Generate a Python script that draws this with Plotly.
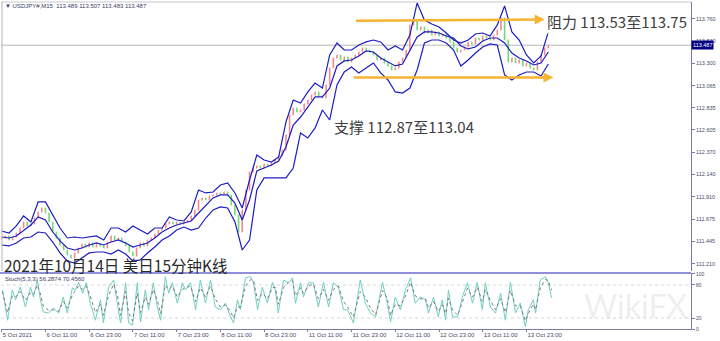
import plotly.graph_objects as go

# ---------------- data ----------------
# hourly closes (x = trading hours since 5 Oct 23:00)
close_hours = list(range(151))
closes = [
    111.479, 111.500, 111.458, 111.489, 111.531, 111.583, 111.646, 111.604, 111.625, 111.687, 111.750,
    111.791, 111.739, 111.646, 111.541, 111.479, 111.406, 111.354, 111.302, 111.271, 111.323,
    111.375, 111.416, 111.385, 111.427, 111.385, 111.416, 111.396, 111.375, 111.437, 111.500,
    111.458, 111.479, 111.437, 111.396, 111.333, 111.291, 111.375, 111.427, 111.396, 111.458,
    111.479, 111.521, 111.562, 111.583, 111.625, 111.646, 111.625, 111.646, 111.625, 111.646,
    111.666, 111.708, 111.771, 111.875, 111.896, 111.875, 111.916, 111.927, 111.948, 111.937,
    111.958, 111.927, 111.823, 111.718, 111.541, 111.771, 111.979, 112.166, 112.208, 112.229,
    112.208, 112.250, 112.229, 112.260, 112.291, 112.333, 112.396, 112.552, 112.760, 112.833,
    112.791, 112.812, 112.875, 112.916, 112.968, 113.000, 112.958, 112.937, 113.073, 113.250,
    113.354, 113.385, 113.333, 113.364, 113.312, 113.354, 113.385, 113.416, 113.458, 113.437,
    113.416, 113.385, 113.333, 113.354, 113.302, 113.271, 113.229, 113.250, 113.312, 113.354,
    113.437, 113.698, 113.750, 113.646, 113.677, 113.614, 113.646, 113.593, 113.625, 113.583,
    113.604, 113.562, 113.521, 113.458, 113.416, 113.437, 113.468, 113.521, 113.500, 113.562,
    113.541, 113.583, 113.562, 113.541, 113.593, 113.646, 113.771, 113.541, 113.312, 113.354,
    113.302, 113.333, 113.271, 113.302, 113.250, 113.229, 113.312, 113.385, 113.458, 113.487,
]
first_open = 111.470

# Bollinger bands, every 2 hours
band_hours = list(range(0, 152, 2))
upper = [
    111.552, 111.531, 111.604, 111.708, 111.646, 111.854, 111.854, 111.718, 111.583, 111.479,
    111.489, 111.479, 111.489, 111.500, 111.458, 111.583, 111.583, 111.541, 111.604, 111.562,
    111.521, 111.583, 111.583, 111.698, 111.666, 111.656, 111.750, 111.979, 111.948, 111.958,
    112.031, 112.052, 111.948, 111.791, 112.083, 112.343, 112.291, 112.270, 112.323, 112.687,
    112.916, 112.885, 113.000, 113.093, 113.041, 113.385, 113.510, 113.437, 113.437, 113.489,
    113.521, 113.541, 113.521, 113.437, 113.479, 113.437, 113.593, 113.927, 113.750, 113.708,
    113.677, 113.614, 113.541, 113.510, 113.541, 113.604, 113.614, 113.583, 113.698, 113.896,
    113.625, 113.541, 113.385, 113.302, 113.375, 113.625,
]
middle = [
    111.489, 111.479, 111.500, 111.562, 111.614, 111.698, 111.666, 111.541, 111.448, 111.375,
    111.354, 111.375, 111.406, 111.427, 111.406, 111.437, 111.458, 111.427, 111.385, 111.406,
    111.427, 111.479, 111.541, 111.583, 111.614, 111.635, 111.656, 111.739, 111.823, 111.896,
    111.927, 111.927, 111.843, 111.666, 111.875, 112.177, 112.208, 112.239, 112.281, 112.427,
    112.656, 112.739, 112.843, 112.948, 112.948, 113.041, 113.271, 113.323, 113.333, 113.375,
    113.427, 113.416, 113.354, 113.312, 113.271, 113.291, 113.427, 113.573, 113.625, 113.625,
    113.614, 113.583, 113.562, 113.479, 113.448, 113.468, 113.531, 113.562, 113.562, 113.510,
    113.406, 113.354, 113.323, 113.281, 113.302, 113.416,
]
lower = [
    111.406, 111.396, 111.427, 111.479, 111.489, 111.541, 111.531, 111.437, 111.323, 111.239,
    111.218, 111.271, 111.323, 111.333, 111.333, 111.312, 111.354, 111.312, 111.239, 111.250,
    111.323, 111.385, 111.458, 111.500, 111.562, 111.593, 111.562, 111.583, 111.687, 111.771,
    111.802, 111.791, 111.646, 111.354, 111.458, 111.979, 112.104, 112.104, 112.104, 112.104,
    112.208, 112.573, 112.520, 112.625, 112.812, 112.708, 113.073, 113.208, 113.260, 113.198,
    113.250, 113.302, 113.198, 113.125, 113.000, 112.989, 113.041, 113.229, 113.510, 113.541,
    113.541, 113.510, 113.437, 113.271, 113.333, 113.406, 113.468, 113.500, 113.489, 113.177,
    113.125, 113.177, 113.208, 113.208, 113.166, 113.291,
]

# Stochastic (5,3,3)
stoch_hours = [
    0.2, 1.6, 2.9, 3.8, 5.1, 6.5, 7.9, 8.7, 9.8, 10.6, 11.4, 12.8, 14.2, 15.6, 16.9, 18.0, 19.4, 20.2,
    21.1, 22.2, 23.2, 24.3, 25.7, 27.1, 27.9, 29.3, 30.7, 31.8, 32.6, 34.0, 34.8, 35.9, 37.2, 38.1,
    39.4, 40.3, 41.6, 42.7, 43.6, 44.9, 45.8, 46.8, 48.2, 49.6, 50.4, 51.8, 53.2, 54.5, 55.9, 57.3,
    58.6, 60.0, 61.4, 62.8, 63.6, 64.7, 65.5, 66.9, 68.3, 69.1, 70.2, 71.5, 72.9, 74.3, 75.1, 75.9,
    77.3, 78.7, 79.8, 80.6, 82.0, 82.8, 84.2, 85.5, 86.9, 88.3, 89.7, 91.0, 92.4, 93.8, 94.9, 96.5,
    98.4, 99.8, 101.2, 102.6, 104.5, 105.8, 106.7, 108.0, 109.4, 110.8, 112.2, 113.5, 114.9, 116.3,
    117.1, 118.5, 119.8, 120.9, 121.8, 122.6, 123.7, 125.1, 126.4, 127.8, 129.2, 130.5, 131.9, 132.7,
    134.1, 135.5, 136.9, 138.2, 139.6, 141.0, 142.3, 143.7, 144.5, 145.9, 146.5, 147.8, 149.2, 150.0,
    150.9,
]
stoch_main = [
    71, 16, 71, 53, 76, 40, 76, 58, 89, 53,
    31, 29, 38, 29, 58, 29, 75, 71, 85, 65,
    84, 47, 16, 53, 11, 76, 89, 47, 11, 84,
    11, 7, 84, 13, 71, 35, 84, 40, 16, 95,
    65, 84, 47, 84, 71, 84, 35, 89, 47, 89,
    40, 35, 47, 22, 11, 53, 35, 93, 95, 84,
    35, 76, 47, 85, 71, 29, 89, 84, 93, 47,
    84, 58, 84, 84, 40, 85, 40, 84, 76, 35,
    35, 11, 89, 47, 29, 22, 85, 47, 13, 58,
    35, 71, 93, 47, 58, 53, 29, 58, 22, 53,
    16, 71, 22, 22, 58, 84, 47, 85, 35, 84,
    40, 29, 65, 16, 85, 29, 47, 4, 35, 53,
    29, 89, 95, 84, 56.29,
]
stoch_signal = [
    68, 30, 60, 58, 68, 52, 66, 63, 80, 64,
    42, 34, 35, 32, 50, 38, 62, 70, 78, 72,
    78, 60, 30, 45, 25, 60, 82, 60, 25, 68,
    30, 15, 65, 30, 58, 45, 72, 52, 28, 80,
    72, 78, 58, 72, 75, 78, 50, 75, 58, 78,
    55, 40, 44, 32, 20, 40, 40, 78, 90, 88,
    52, 65, 55, 75, 76, 45, 75, 85, 88, 60,
    75, 65, 78, 82, 55, 72, 52, 72, 78, 50,
    40, 22, 68, 58, 38, 26, 70, 56, 25, 45,
    42, 60, 85, 60, 55, 55, 38, 50, 32, 44,
    28, 56, 35, 25, 48, 74, 58, 76, 50, 72,
    52, 35, 55, 30, 70, 42, 42, 15, 28, 45,
    35, 75, 90, 88, 70.46,
]

tick_hours = [0, 12, 24, 36, 48, 60, 72, 84, 96, 108, 120, 132, 144]
tick_labels = ["5 Oct 2021", "6 Oct 11:00", "6 Oct 23:00", "7 Oct 11:00", "7 Oct 23:00",
               "8 Oct 11:00", "8 Oct 23:00", "11 Oct 11:00", "11 Oct 23:00", "12 Oct 11:00",
               "12 Oct 23:00", "13 Oct 11:00", "13 Oct 23:00"]
price_ticks = [113.760, 113.530, 113.300, 113.065, 112.835, 112.605, 112.370, 112.140,
               111.910, 111.675, 111.445, 111.210]
stoch_ticks = [100, 80, 20, 0]

last_price = 113.487
resistance_line = (96.8, 113.742, 149.0, 113.755)   # (h0, p0, h1, p1)
support_line = (96.2, 113.151, 151.4, 113.151)

# ---------------- layout helpers ----------------
W, H = 720, 341
ML, MR, MT, MB = 1, 29, 2, 12
PW, PH = W - ML - MR, H - MT - MB


def px(x):
    return (x - ML) / PW


def py(y):
    return (H - MB - y) / PH


main_dom = [py(271), 1.0]
stoch_dom = [0.0, py(273)]

opens = [first_open] + closes[:-1]
highs = [max(o, c) for o, c in zip(opens, closes)]
lows = [min(o, c) for o, c in zip(opens, closes)]

band_color = "#1c1cc4"
fig = go.Figure()
fig.add_trace(go.Ohlc(
    x=close_hours, open=opens, high=highs, low=lows, close=closes,
    increasing=dict(line=dict(color="#f28a8a", width=1.6)),
    decreasing=dict(line=dict(color="#74d874", width=1.6)),
    tickwidth=0.2, xaxis="x", yaxis="y", showlegend=False, hoverinfo="skip"))
for arr in (upper, middle, lower):
    fig.add_trace(go.Scatter(x=band_hours, y=arr, mode="lines", line=dict(color=band_color, width=1.2),
                             xaxis="x", yaxis="y", showlegend=False, hoverinfo="skip"))
fig.add_trace(go.Scatter(x=stoch_hours, y=stoch_main, mode="lines",
                         line=dict(color="#6fcfc0", width=1), xaxis="x2", yaxis="y2",
                         showlegend=False, hoverinfo="skip"))
fig.add_trace(go.Scatter(x=stoch_hours, y=stoch_signal, mode="lines",
                         line=dict(color="#7a7a7a", width=1, dash="dot"), xaxis="x2", yaxis="y2",
                         showlegend=False, hoverinfo="skip"))

small = dict(family="Liberation Sans", size=6, color="#4a4a6a")
axis_col = "#7a7aa8"
xr = [-0.2, -0.2 + PW / 3.644]

fig.update_layout(
    width=W, height=H, margin=dict(l=ML, r=MR, t=MT, b=MB),
    paper_bgcolor="white", plot_bgcolor="white",
    xaxis=dict(domain=[0, 1], anchor="y", range=xr, showticklabels=False, showgrid=False,
               zeroline=False, rangeslider=dict(visible=False), ticks=""),
    xaxis2=dict(domain=[0, 1], anchor="y2", matches="x", range=xr, tickmode="array",
                tickvals=tick_hours, ticktext=tick_labels, ticklabelposition="outside right",
                tickangle=0, ticks="outside", ticklen=2, tickcolor=axis_col, tickfont=small,
                showgrid=False, zeroline=False, showline=True, linecolor=axis_col, linewidth=1),
    yaxis=dict(domain=main_dom, anchor="x", side="right", range=[111.135, 113.937],
               tickmode="array", tickvals=price_ticks, ticktext=[f"{v:.3f}" for v in price_ticks],
               ticks="outside", ticklen=3, tickcolor=axis_col, tickfont=dict(small, size=5.5),
               showgrid=False, zeroline=False, showline=True, linecolor=axis_col, linewidth=1),
    yaxis2=dict(domain=stoch_dom, anchor="x2", side="right", range=[0, 101.8],
                tickmode="array", tickvals=stoch_ticks, ticktext=[str(v) for v in stoch_ticks],
                ticks="outside", ticklen=3, tickcolor=axis_col, tickfont=dict(small, size=5),
                showgrid=False, zeroline=False, showline=True, linecolor=axis_col, linewidth=1),
    showlegend=False,
)

shapes = [
    dict(type="line", xref="paper", yref="y", x0=0, x1=1, y0=last_price, y1=last_price,
         line=dict(color="#b8b8b8", width=1), layer="below"),
    dict(type="line", xref="paper", yref="y2", x0=0, x1=1, y0=80, y1=80,
         line=dict(color="#d8d8d8", width=1, dash="dot"), layer="below"),
    dict(type="line", xref="paper", yref="y2", x0=0, x1=1, y0=20, y1=20,
         line=dict(color="#d8d8d8", width=1, dash="dot"), layer="below"),
    dict(type="line", xref="paper", yref="paper", x0=px(0), x1=1, y0=stoch_dom[1], y1=stoch_dom[1],
         line=dict(color="#6a6ad0", width=1.5)),
    dict(type="line", xref="paper", yref="paper", x0=px(2), x1=px(2), y0=main_dom[0], y1=1,
         line=dict(color="#b4b4b4", width=1)),
    dict(type="line", xref="paper", yref="paper", x0=0, x1=1, y0=1, y1=1,
         line=dict(color="#c8c8c8", width=1)),
]
fig.update_layout(shapes=shapes)

orange = "#f6b432"
ann = []
for (h0, p0, h1, p1) in (resistance_line, support_line):
    ann.append(dict(x=h1, y=p1, ax=h0, ay=p0, xref="x", yref="y", axref="x", ayref="y",
                    text="", showarrow=True, arrowhead=2, arrowsize=0.8, arrowwidth=2.5,
                    arrowcolor=orange))
cjk = "Noto Sans CJK SC"
ann += [
    dict(x=px(3), y=py(6), xref="paper", yref="paper", xanchor="left", yanchor="middle",
         text="▼ USDJPY#,M15  113.489 113.507 113.483 113.487", showarrow=False,
         font=dict(family="Liberation Sans", size=6, color="#3c3c64")),
    dict(x=px(3), y=py(279), xref="paper", yref="paper", xanchor="left", yanchor="middle",
         text="Stoch(5,3,3) 56.2874 70.4560", showarrow=False,
         font=dict(family="Liberation Sans", size=6, color="#3c3c64")),
    dict(x=px(2), y=py(265), xref="paper", yref="paper", xanchor="left", yanchor="middle",
         text="2021年10月14日 美日15分钟K线", showarrow=False,
         font=dict(family=cjk, size=15.5, color="#2a2a2a")),
    dict(x=px(332), y=py(126), xref="paper", yref="paper", xanchor="left", yanchor="middle",
         text="支撑 112.87至113.04", showarrow=False,
         font=dict(family=cjk, size=15, color="#404040")),
    dict(x=px(545), y=py(21), xref="paper", yref="paper", xanchor="left", yanchor="middle",
         text="阻力 113.53至113.75", showarrow=False,
         font=dict(family=cjk, size=15, color="#404040"), bgcolor="rgba(255,255,255,0.85)"),
    dict(x=1.0, y=last_price, xref="paper", yref="y", xanchor="left", yanchor="middle",
         text="113.487", showarrow=False, bgcolor="#000080", borderpad=1,
         font=dict(family="Liberation Sans", size=5.5, color="white")),
    dict(x=px(635), y=py(305), xref="paper", yref="paper", xanchor="center", yanchor="middle",
         text="WikiFX", showarrow=False,
         font=dict(family="Lato", size=32, color="rgba(180,180,180,0.22)")),
]
fig.update_layout(annotations=ann)

fig.write_html("out.html")
